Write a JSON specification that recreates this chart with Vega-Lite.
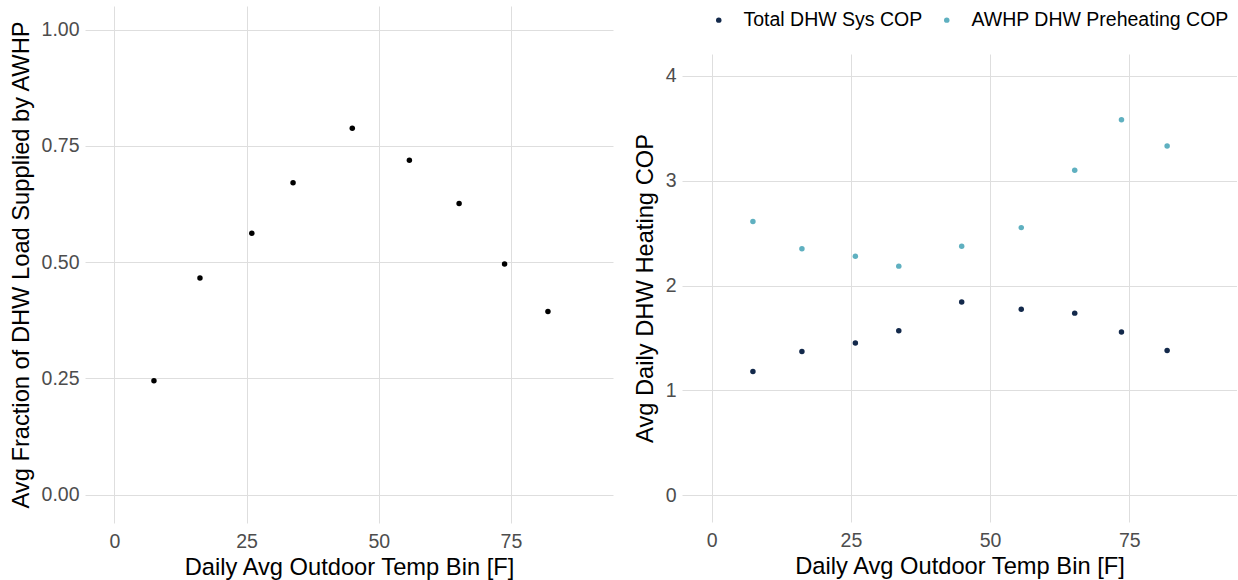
{
  "$schema": "https://vega.github.io/schema/vega-lite/v6.json",
  "padding": {"left": 9, "top": 6, "right": 0, "bottom": 0},
  "background": "#ffffff",
  "config": {
    "view": {"stroke": null},
    "font": "Liberation Sans",
    "axis": {
      "grid": true,
      "gridColor": "#dedede",
      "gridWidth": 1,
      "domain": false,
      "ticks": false,
      "labelFontSize": 19.5,
      "labelColor": "#4d4d4d",
      "labelFont": "Liberation Sans",
      "titleFont": "Liberation Sans",
      "titleFontSize": 23.7,
      "titleFontWeight": "normal",
      "titleColor": "#000000"
    },
    "axisX": {"labelPadding": 9, "titlePadding": 5},
    "axisY": {"labelPadding": 6, "titlePadding": 8},
    "concat": {"spacing": 20}
  },
  "datasets": {
    "frac": [
      {"temp": 7.5, "fraction": 0.245},
      {"temp": 16.2, "fraction": 0.466},
      {"temp": 26.0, "fraction": 0.562},
      {"temp": 33.8, "fraction": 0.671},
      {"temp": 45.0, "fraction": 0.788},
      {"temp": 55.8, "fraction": 0.719},
      {"temp": 65.2, "fraction": 0.626},
      {"temp": 73.8, "fraction": 0.496},
      {"temp": 82.0, "fraction": 0.394}
    ],
    "cop": [
      {"temp": 7.4, "series": "Total DHW Sys COP", "cop": 1.181},
      {"temp": 16.2, "series": "Total DHW Sys COP", "cop": 1.371},
      {"temp": 25.8, "series": "Total DHW Sys COP", "cop": 1.452},
      {"temp": 33.6, "series": "Total DHW Sys COP", "cop": 1.568},
      {"temp": 44.9, "series": "Total DHW Sys COP", "cop": 1.843},
      {"temp": 55.6, "series": "Total DHW Sys COP", "cop": 1.773},
      {"temp": 65.2, "series": "Total DHW Sys COP", "cop": 1.737},
      {"temp": 73.6, "series": "Total DHW Sys COP", "cop": 1.558},
      {"temp": 81.8, "series": "Total DHW Sys COP", "cop": 1.381},
      {"temp": 7.4, "series": "AWHP DHW Preheating COP", "cop": 2.611},
      {"temp": 16.2, "series": "AWHP DHW Preheating COP", "cop": 2.351},
      {"temp": 25.8, "series": "AWHP DHW Preheating COP", "cop": 2.280},
      {"temp": 33.6, "series": "AWHP DHW Preheating COP", "cop": 2.185},
      {"temp": 44.9, "series": "AWHP DHW Preheating COP", "cop": 2.375},
      {"temp": 55.6, "series": "AWHP DHW Preheating COP", "cop": 2.552},
      {"temp": 65.2, "series": "AWHP DHW Preheating COP", "cop": 3.098},
      {"temp": 73.6, "series": "AWHP DHW Preheating COP", "cop": 3.581},
      {"temp": 81.8, "series": "AWHP DHW Preheating COP", "cop": 3.330}
    ]
  },
  "hconcat": [
    {
      "width": 528,
      "height": 517,
      "data": {"name": "frac"},
      "mark": {"type": "point", "filled": true, "size": 30, "opacity": 1, "color": "#000000"},
      "encoding": {
        "x": {
          "field": "temp", "type": "quantitative",
          "title": "Daily Avg Outdoor Temp Bin [F]",
          "scale": {"domain": [-5.54, 94.3], "nice": false, "zero": false},
          "axis": {"values": [0, 25, 50, 75]}
        },
        "y": {
          "field": "fraction", "type": "quantitative",
          "title": "Avg Fraction of DHW Load Supplied by AWHP",
          "scale": {"domain": [-0.061, 1.051], "nice": false, "zero": false},
          "axis": {"values": [0, 0.25, 0.5, 0.75, 1], "format": ".2f"}
        }
      }
    },
    {
      "spacing": 18,
      "resolve": {"legend": {"color": "independent"}},
      "vconcat": [
        {
          "width": 555,
          "height": 30,
          "data": {"name": "cop"},
          "mark": {"type": "point", "filled": true, "size": 30, "opacity": 0},
          "encoding": {
            "color": {
              "field": "series", "type": "nominal",
              "scale": {
                "domain": ["Total DHW Sys COP", "AWHP DHW Preheating COP"],
                "range": ["#13294b", "#5fb0c0"]
              },
              "legend": {
                "title": null,
                "orient": "none",
                "direction": "horizontal",
                "legendX": 23,
                "legendY": 0,
                "padding": 4,
                "labelFontSize": 19.5,
                "labelColor": "#000000",
                "labelFont": "Liberation Sans",
                "labelOffset": 15,
                "symbolType": "circle",
                "symbolSize": 30,
                "symbolStrokeWidth": 0,
                "symbolOpacity": 1,
                "columnPadding": 14,
                "labelLimit": 400
              }
            }
          }
        },
        {
          "width": 555,
          "height": 468,
          "data": {"name": "cop"},
          "mark": {"type": "point", "filled": true, "size": 30, "opacity": 1},
          "encoding": {
            "x": {
              "field": "temp", "type": "quantitative",
              "title": "Daily Avg Outdoor Temp Bin [F]",
              "scale": {"domain": [-5.34, 94.35], "nice": false, "zero": false},
              "axis": {"values": [0, 25, 50, 75]}
            },
            "y": {
              "field": "cop", "type": "quantitative",
              "title": "Avg Daily DHW Heating COP",
              "scale": {"domain": [-0.254, 4.207], "nice": false, "zero": false},
              "axis": {"values": [0, 1, 2, 3, 4], "format": "d"}
            },
            "color": {
              "field": "series", "type": "nominal",
              "scale": {
                "domain": ["Total DHW Sys COP", "AWHP DHW Preheating COP"],
                "range": ["#13294b", "#5fb0c0"]
              },
              "legend": null
            }
          }
        }
      ]
    }
  ]
}
